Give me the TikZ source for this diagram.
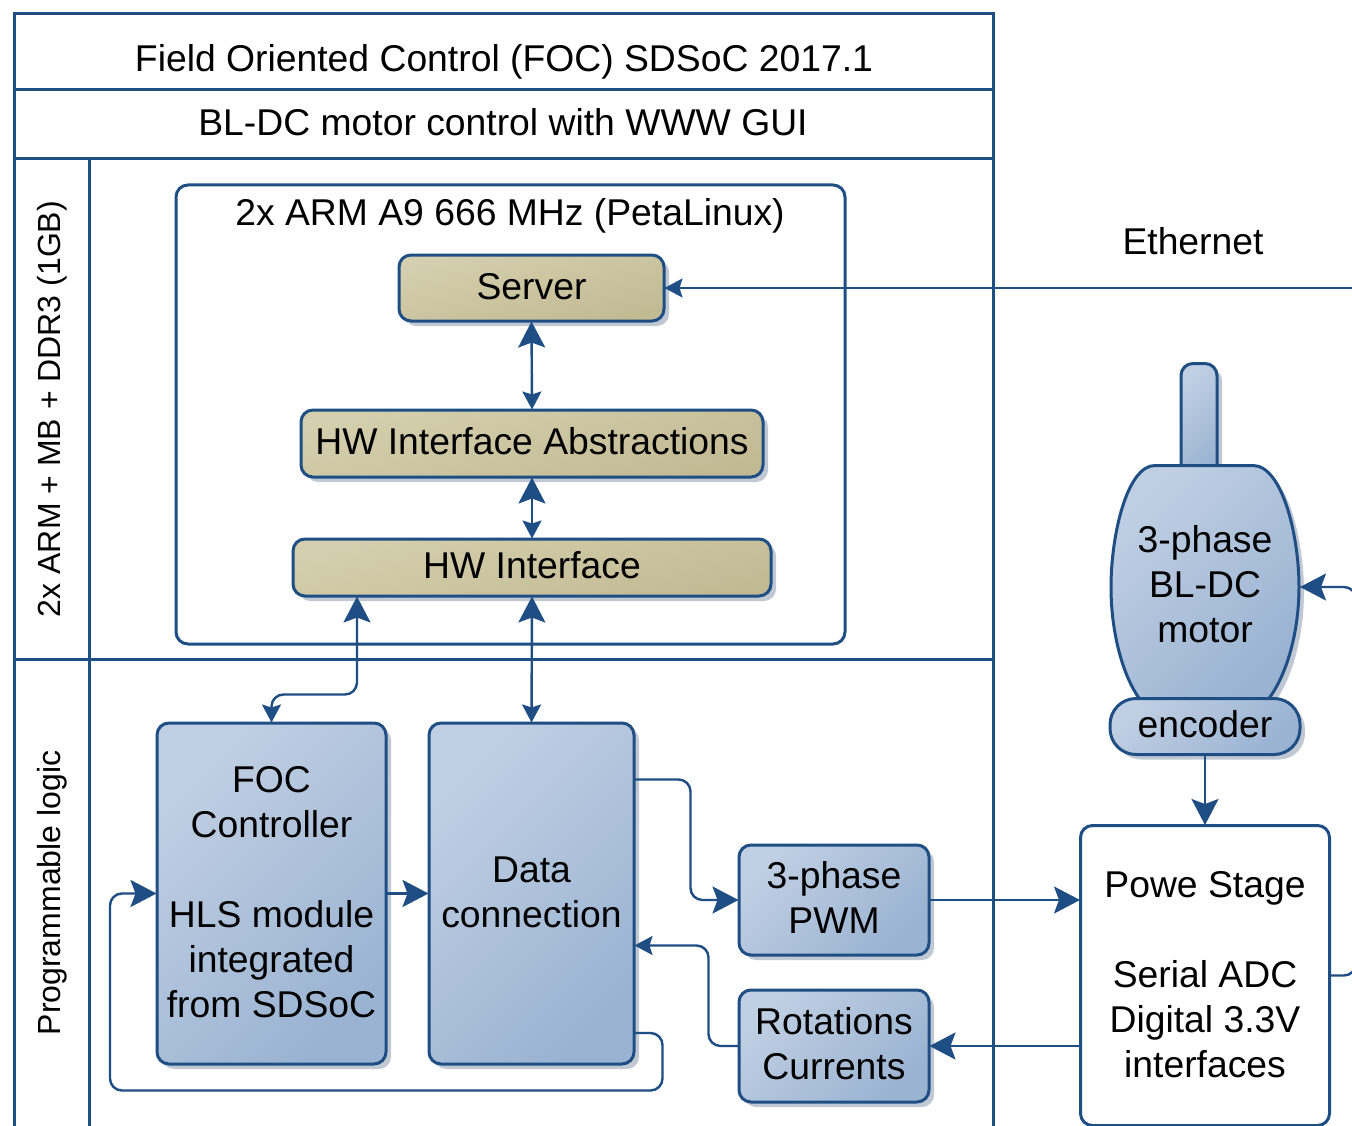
\documentclass[tikz,border=0pt]{standalone}
\usepackage{fontspec}
\setmainfont{Liberation Sans}
\usetikzlibrary{arrows.meta,shadows,calc}
\definecolor{navy}{HTML}{1F4E84}
\definecolor{shade}{HTML}{C0C8D4}
\definecolor{bluehi}{HTML}{C0CFE3}
\definecolor{bluemid}{HTML}{A3BBD6}
\definecolor{bluelo}{HTML}{9AB3D2}
\definecolor{goldhi}{HTML}{D4CFAE}
\definecolor{goldlo}{HTML}{C2BA93}
\newcommand{\uptext}[2][-2pt]{\raisebox{#1}[\height][\depth]{\begin{tabular}{@{}c@{}}#2\end{tabular}}}
\tikzset{
  lab/.style={font=\fontsize{37.3}{45}\selectfont,align=center,text=black,inner sep=0pt},
  sidelab/.style={font=\fontsize{32}{38}\selectfont,text=black,inner sep=0pt,rotate=90},
  frameline/.style={draw=navy,line width=3pt},
  basebox/.style={lab,rounded corners=12pt,draw=navy,line width=3pt,outer sep=0.5pt,inner sep=0pt,
     general shadow={fill=shade,shadow xshift=5pt,shadow yshift=-5pt}},
  bluebox/.style={basebox,top color=bluehi,middle color=bluemid,bottom color=bluelo,shading angle=45},
  goldbox/.style={basebox,top color=goldhi,bottom color=goldlo,shading angle=15},
  plainbox/.style={lab,rounded corners=12pt,draw=navy,line width=3pt,outer sep=0.5pt,fill=white},
  conn/.style={draw=navy,line width=2.4pt,rounded corners=12pt},
  big/.tip={Stealth[length=26pt,width=27pt,inset=5pt,color=navy]},
  small/.tip={Stealth[length=18pt,width=19pt,inset=3pt,color=navy]},
}
\begin{document}
\begin{tikzpicture}[x=1pt,y=-1pt]
\useasboundingbox (0,0) rectangle (1352,1126);
\clip (0,0) rectangle (1352,1126);
\fill[white] (0,0) rectangle (1352,1126);

% frame
\draw[frameline] (14,1140) -- (14,14) -- (993,14) -- (993,1140);
\draw[frameline] (14,89.5) -- (993,89.5);
\draw[frameline] (14,158.5) -- (993,158.5);
\draw[frameline] (14,659) -- (993,659);
\draw[frameline] (89.5,158.5) -- (89.5,1140);

\node[lab] (title) at (504,62) {Field Oriented Control (FOC) SDSoC 2017.1};
\node[lab] (sub) at (503,122) {BL-DC motor control with WWW GUI};
\node[sidelab] (armside) at (52,409) {2x ARM + MB + DDR3 (1GB)};
\node[sidelab] (plside) at (52,893) {Programmable logic};
\node[lab] (eth) at (1193,241) {Ethernet};

% ARM container
\node[plainbox,minimum width=669,minimum height=459] (arm) at (510.5,414.5) {};
\node[lab] (armt) at (510,216) {2x ARM A9 666 MHz (PetaLinux)};

% gold boxes
\node[goldbox,minimum width=265,minimum height=66] (server) at (531.5,288) {\uptext{Server}};
\node[goldbox,minimum width=462,minimum height=67] (hwa) at (532,443.5) {\uptext{HW Interface Abstractions}};
\node[goldbox,minimum width=478,minimum height=57] (hwi) at (532,567.5) {\uptext{HW Interface}};

% blue boxes
\node[bluebox,minimum width=229,minimum height=341] (foc) at (271.5,893.5)
  {\uptext{FOC\\Controller\\ \\HLS module\\integrated\\from SDSoC}};
\node[bluebox,minimum width=205,minimum height=341] (data) at (531.5,893.5) {\uptext{Data\\connection}};
\node[bluebox,minimum width=190,minimum height=110] (pwm) at (834,900) {\uptext{3-phase\\PWM}};
\node[bluebox,minimum width=190,minimum height=112] (rot) at (834,1046) {\uptext{Rotations\\Currents}};

% motor
\path[draw=navy,line width=3pt,rounded corners=12pt,top color=bluehi,middle color=bluemid,bottom color=bluelo,shading angle=45,
   general shadow={fill=shade,shadow xshift=5pt,shadow yshift=-5pt}]
   (1181,480) -- (1181,363.5) -- (1217,363.5) -- (1217,480) -- cycle;
\path[draw=navy,line width=3pt,top color=bluehi,middle color=bluemid,bottom color=bluelo,shading angle=45,
   general shadow={fill=shade,shadow xshift=5pt,shadow yshift=-5pt}]
   (1155,465.5) -- (1253,465.5) .. controls (1282,465.5) and (1299,535) .. (1299,587)
   .. controls (1299,635) and (1285,680) .. (1266,702) -- (1142,702)
   .. controls (1124,680) and (1111,635) .. (1111,587)
   .. controls (1111,535) and (1127,465.5) .. (1155,465.5) -- cycle;
\node[lab,minimum width=190,minimum height=130,outer sep=0pt] (motor) at (1205,587) {\uptext[-1pt]{3-phase\\BL-DC\\motor}};
\node[bluebox,rounded corners=26pt,minimum width=190,minimum height=56] (enc) at (1205,726.5) {\uptext{encoder}};

% power stage
\node[plainbox,minimum width=249,minimum height=300] (ps) at (1205,975.5)
  {\uptext[-2.5pt]{Powe Stage\\ \\Serial ADC\\Digital 3.3V\\interfaces}};

% connectors
\coordinate (ethend) at (1360,288);
\coordinate (offr) at (1356,0);
\draw[conn,-small] (ethend) -- (server.east);
\draw[conn,big-small] (server.south) -- (hwa.north);
\draw[conn,big-small] (hwa.south) -- (hwi.north);
\draw[conn,big-small] (hwi.south) -- (data.north);
\draw[conn,big-small] ([xshift=-175pt]hwi.south) -- ++(0,98) -| (foc.north);
\draw[conn,-big] (foc.east) -- (data.west);
\draw[conn,-big] ([yshift=114pt]data.east) -- ++(56,0) |- (pwm.west);
\draw[conn,-big] (pwm.east) -- (pwm.east -| ps.west);
\draw[conn,-big] (rot.east -| ps.west) -- (rot.east);
\draw[conn,-small] (rot.west) -- ++(-30,0) |- ([yshift=-52pt]data.east);
\draw[conn,-big] ([yshift=-139.5pt]data.east) -- ++(28,0) -- ++(0,57.5) -- ++(-552.5,0) |- (foc.west);
\draw[conn,-big] (enc.south) -- (ps.north);
\draw[conn,-big] (ps.east) -- (ps.east -| offr) |- (motor.east);
\end{tikzpicture}
\end{document}
